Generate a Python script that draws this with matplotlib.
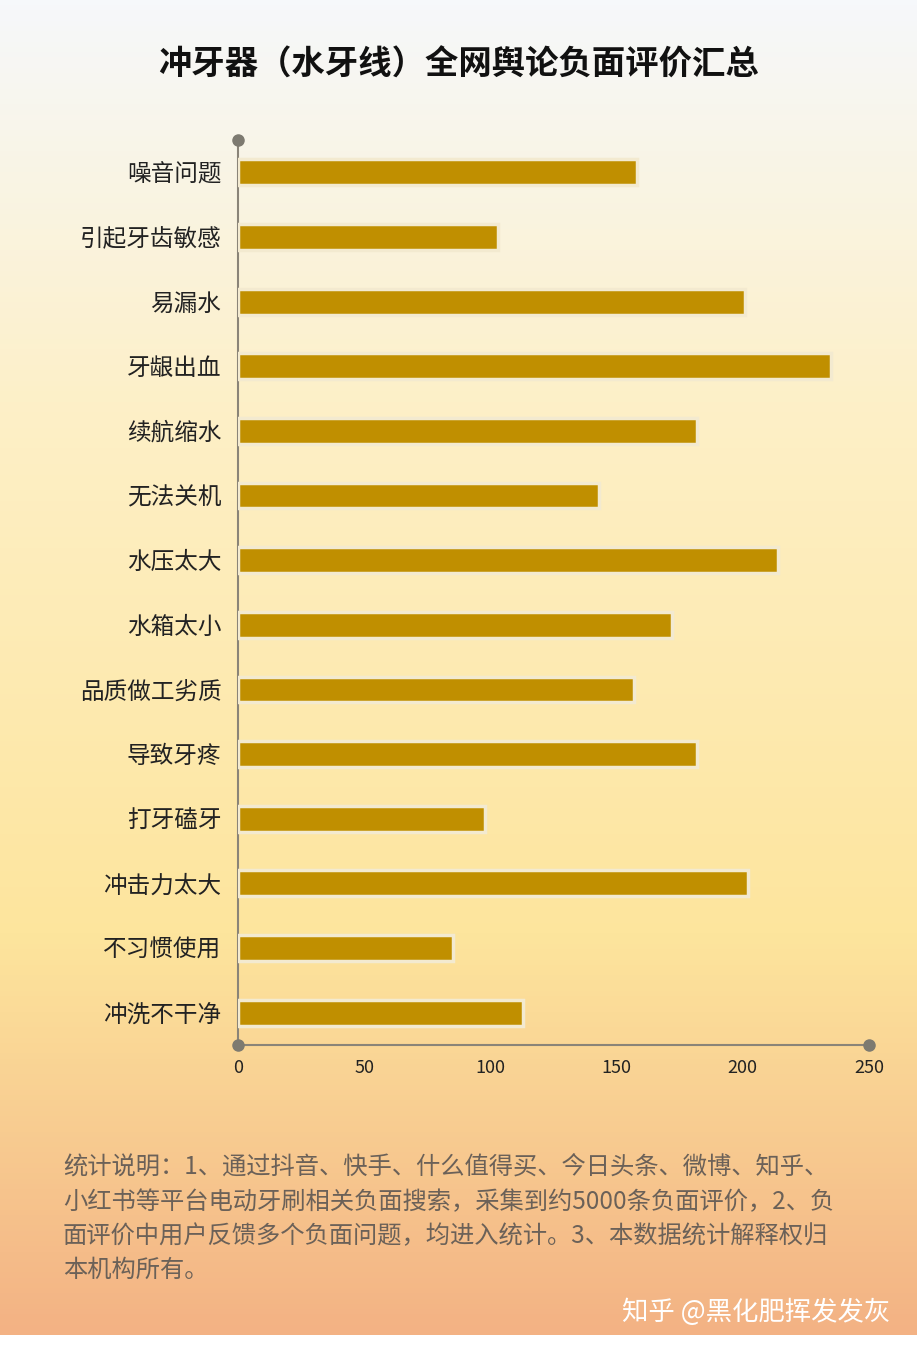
import numpy as np
import matplotlib
matplotlib.use('agg')
import matplotlib.pyplot as plt
from matplotlib.colors import LinearSegmentedColormap

plt.rcParams['font.family'] = ['Noto Sans CJK SC', 'DejaVu Sans']

categories = ["噪音问题", "引起牙齿敏感", "易漏水", "牙龈出血", "续航缩水", "无法关机", "水压太大",
              "水箱太小", "品质做工劣质", "导致牙疼", "打牙磕牙", "冲击力太大", "不习惯使用", "冲洗不干净"]
values = [158, 103, 201, 235, 182, 143, 214, 172, 157, 182, 98, 202, 85, 113]
xticks = [0, 50, 100, 150, 200, 250]

fig = plt.figure(figsize=(9.17, 13.51), dpi=100)

# background gradient
bg = fig.add_axes([0, 1 - 1335 / 1351, 1, 1335 / 1351], zorder=-10)
cmap = LinearSegmentedColormap.from_list('bg', [(0, '#f3b284'), (0.3, '#fde59d'), (0.7, '#fdf0c8'), (1, '#f6f8fb')])
bg.imshow(np.linspace(0, 1, 256).reshape(-1, 1), aspect='auto', cmap=cmap, origin='lower', extent=[0, 1, 0, 1])
bg.axis('off')

ax = fig.add_axes([238 / 917, 1 - 1045 / 1351, (869 - 238) / 917, (1045 - 140) / 1351])
ax.patch.set_alpha(0)
y = np.arange(len(categories))[::-1]
ax.barh(y, values, height=0.4, color='#c08f00', edgecolor='#f3ead0', linewidth=2.5, zorder=3)
ax.set_xlim(0, 250)
ax.set_ylim(-0.5, len(categories) - 0.5)
ax.set_yticks(y)
ax.set_yticklabels(categories, fontsize=17, color='#222222')
ax.set_xticks(xticks)
ax.set_xticklabels([str(t) for t in xticks], fontsize=13, color='#222222')
ax.tick_params(length=0, pad=12)
ax.tick_params(axis='x', pad=10)
for s in ['top', 'right']:
    ax.spines[s].set_visible(False)
for s in ['left', 'bottom']:
    ax.spines[s].set_color('#8a8478')
    ax.spines[s].set_linewidth(1.5)
ax.plot([0], [len(categories) - 0.5], 'o', color='#7d7a70', ms=8, clip_on=False, zorder=5)
ax.plot([0, 250], [-0.5, -0.5], 'o', color='#7d7a70', ms=8, clip_on=False, zorder=5)

fig.text(0.5, 1 - 65 / 1351, "冲牙器（水牙线）全网舆论负面评价汇总", ha='center', va='center',
         fontsize=24, fontweight='bold', color='#111111')

note = ("统计说明：1、通过抖音、快手、什么值得买、今日头条、微博、知乎、\n"
        "小红书等平台电动牙刷相关负面搜索，采集到约5000条负面评价，2、负\n"
        "面评价中用户反馈多个负面问题，均进入统计。3、本数据统计解释权归\n"
        "本机构所有。")
fig.text(63 / 917, 1 - 1155 / 1351, note, ha='left', va='top', fontsize=17.5, color='#6b6158', linespacing=1.4)
fig.text(890 / 917, 1 - 1312 / 1351, "知乎 @黑化肥挥发发灰", ha='right', va='center', fontsize=19, color='white')

fig.savefig('out.png', dpi=100)
